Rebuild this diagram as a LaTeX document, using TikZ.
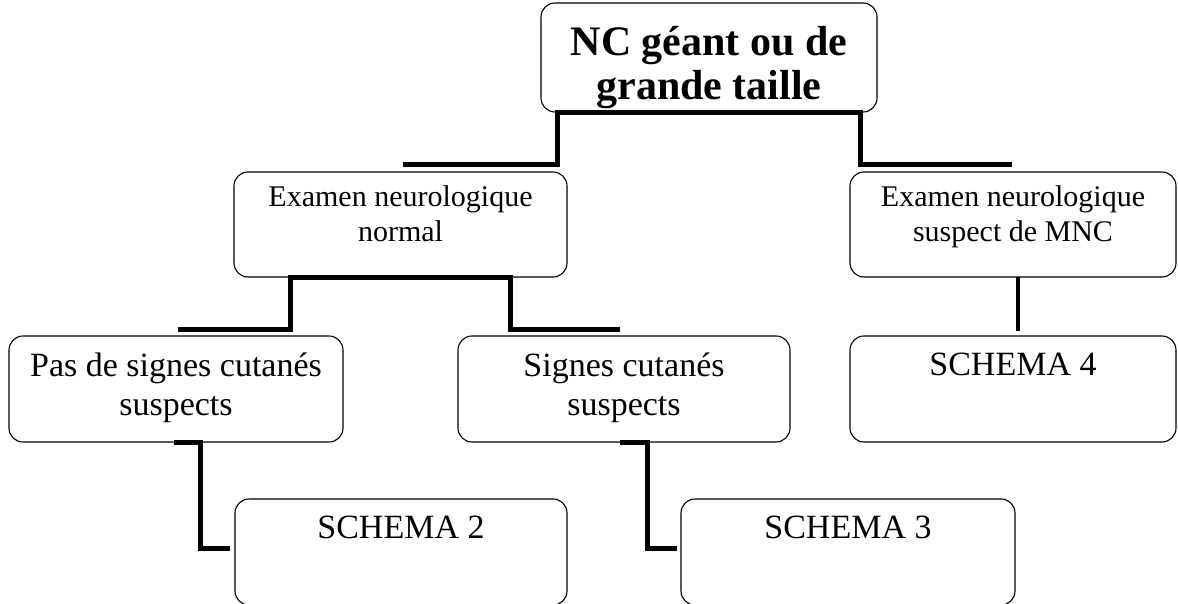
\documentclass[tikz,border=0pt]{standalone}
\usepackage{fontspec}
\setmainfont{Liberation Serif}
\begin{document}
\begin{tikzpicture}[x=1pt,y=-1pt,
    boite/.style={draw,rounded corners=14pt,line width=1.1pt,inner sep=0pt},
    lien/.style={line width=5pt},
    txt/.style={align=center,anchor=north,inner sep=0pt}]
  \useasboundingbox (0,0) rectangle (1178,604);

  \node[boite,minimum width=336pt,minimum height=109pt,
    label={[txt,yshift=-24pt,font=\fontsize{42}{44}\selectfont\bfseries]north:NC géant ou de\\grande taille}] (NC) at (709,57.5) {};

  \node[boite,minimum width=333pt,minimum height=105pt,
    label={[txt,yshift=-14pt,font=\fontsize{30}{35}\selectfont]north:Examen neurologique\\normal}] (Norm) at (400.5,224.5) {};
  \node[boite,minimum width=326pt,minimum height=105pt,
    label={[txt,yshift=-14pt,font=\fontsize{30}{35}\selectfont]north:Examen neurologique\\suspect de MNC}] (Susp) at (1013,224.5) {};

  \node[boite,minimum width=334pt,minimum height=106pt,
    label={[txt,yshift=-17pt,font=\fontsize{34}{39}\selectfont]north:Pas de signes cutanés\\suspects}] (Pas) at (176,389) {};
  \node[boite,minimum width=332pt,minimum height=106pt,
    label={[txt,yshift=-17pt,font=\fontsize{34}{39}\selectfont]north:Signes cutanés\\suspects}] (Sig) at (624,389) {};
  \node[boite,minimum width=326pt,minimum height=106pt,
    label={[txt,yshift=-17pt,font=\fontsize{34}{39}\selectfont]north:SCHEMA 4}] (S4) at (1013,389) {};

  \node[boite,minimum width=332pt,minimum height=106pt,
    label={[txt,yshift=-17pt,font=\fontsize{34}{39}\selectfont]north:SCHEMA 2}] (S2) at (401,552) {};
  \node[boite,minimum width=334pt,minimum height=106pt,
    label={[txt,yshift=-17pt,font=\fontsize{34}{39}\selectfont]north:SCHEMA 3}] (S3) at (848,552) {};

  \coordinate (A) at (403,165);
  \coordinate (B) at (557,113);
  \coordinate (C) at (860,165);
  \coordinate (D) at (1012,165);

  \coordinate (E) at (178,329);
  \coordinate (F) at (290,277);
  \coordinate (G) at (510,329);
  \coordinate (H) at (620,329);

  \coordinate (K) at (1018,277);
  \coordinate (L) at (1018,331);

  \coordinate (P1) at (174,442);
  \coordinate (P2) at (200,548);
  \coordinate (P3) at (230,548);
  \coordinate (Q1) at (620,442);
  \coordinate (Q2) at (647,548);
  \coordinate (Q3) at (677,548);

  \draw[lien] (A) -| (B) -| (C) -- (D);
  \draw[lien] (E) -| (F) -| (G) -- (H);
  \draw[lien,line width=3.5pt] (K) -- (L);
  \draw[lien] (P1) -| (P2) -- (P3);
  \draw[lien] (Q1) -| (Q2) -- (Q3);
\end{tikzpicture}
\end{document}
